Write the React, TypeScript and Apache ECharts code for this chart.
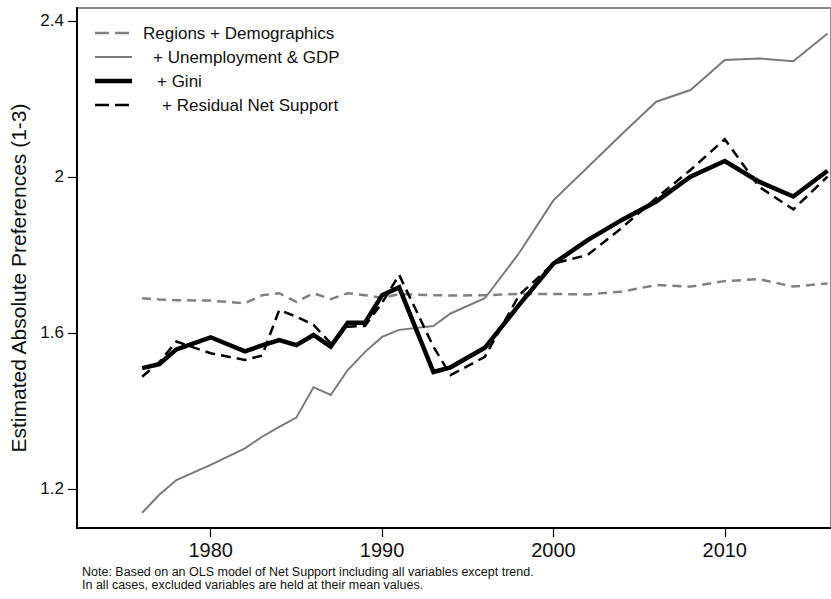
import React, { useEffect, useRef } from "react";
import * as echarts from "echarts";

const years = [1976, 1977, 1978, 1980, 1982, 1983, 1984, 1985, 1986, 1987, 1988, 1989, 1990, 1991, 1993, 1994, 1996, 1998, 2000, 2002, 2004, 2006, 2008, 2010, 2012, 2014, 2016];

const regionsDemographics = [1.689, 1.686, 1.684, 1.683, 1.676, 1.697, 1.702, 1.680, 1.702, 1.687, 1.702, 1.697, 1.690, 1.700, 1.697, 1.696, 1.697, 1.700, 1.700, 1.699, 1.706, 1.723, 1.719, 1.733, 1.738, 1.719, 1.727];
const unemploymentGdp = [1.139, 1.185, 1.223, 1.262, 1.304, 1.334, 1.359, 1.383, 1.461, 1.441, 1.505, 1.551, 1.590, 1.608, 1.618, 1.650, 1.689, 1.805, 1.940, 2.025, 2.110, 2.193, 2.223, 2.300, 2.304, 2.297, 2.368];
const gini = [1.510, 1.520, 1.558, 1.589, 1.553, 1.568, 1.582, 1.569, 1.595, 1.565, 1.626, 1.626, 1.697, 1.717, 1.500, 1.512, 1.562, 1.672, 1.778, 1.838, 1.890, 1.937, 2.001, 2.041, 1.988, 1.950, 2.016];
const residualNetSupport = [1.488, 1.525, 1.578, 1.548, 1.531, 1.542, 1.659, 1.642, 1.621, 1.574, 1.616, 1.618, 1.677, 1.749, 1.565, 1.492, 1.539, 1.697, 1.778, 1.800, 1.870, 1.946, 2.018, 2.097, 1.975, 1.917, 2.001];

const xTicks = [1980, 1990, 2000, 2010];
const yTicks = [1.2, 1.6, 2, 2.4];
const legendNames = ["Regions + Demographics", "+ Unemployment & GDP", "+ Gini", "+ Residual Net Support"];
const yTitle = "Estimated Absolute Preferences (1-3)";
const noteLines = [
  "Note: Based on an OLS model of Net Support including all variables except trend.",
  "In all cases, excluded variables are held at their mean values.",
];

const FONT = "'Liberation Sans', Arial, Helvetica, sans-serif";

const styles = [
  { color: "#808080", width: 2.5, type: [9, 6] as any },
  { color: "#7a7a7a", width: 2, type: "solid" as any },
  { color: "#000000", width: 4.5, type: "solid" as any },
  { color: "#000000", width: 2.5, type: [10, 6] as any },
];

export default function App() {
  const ref = useRef<HTMLDivElement>(null);
  useEffect(() => {
    if (!ref.current) return;
    const chart = echarts.init(ref.current, undefined, { renderer: "svg" });
    const seriesData = [regionsDemographics, unemploymentGdp, gini, residualNetSupport];
    const legendX = [143, 153, 157, 162];
    const legendY = [33, 57, 81, 105];
    const legendGraphics: any[] = [];
    legendNames.forEach((name, i) => {
      legendGraphics.push({
        type: "line",
        shape: { x1: 95, y1: legendY[i], x2: 132, y2: legendY[i] },
        style: {
          stroke: styles[i].color,
          lineWidth: styles[i].width,
          lineDash: Array.isArray(styles[i].type) ? [14, 6] : null,
        },
        silent: true,
      });
      legendGraphics.push({
        type: "text",
        x: legendX[i],
        y: legendY[i],
        style: {
          text: name,
          font: `17px ${FONT}`,
          fill: "#111",
          textVerticalAlign: "middle",
        },
        silent: true,
      });
    });
    noteLines.forEach((t, i) => {
      legendGraphics.push({
        type: "text",
        x: 82,
        y: 565 + i * 13,
        style: { text: t, font: `12.5px ${FONT}`, fill: "#111", textVerticalAlign: "top" },
        silent: true,
      });
    });

    chart.setOption({
      animation: false,
      backgroundColor: "#ffffff",
      grid: {
        left: 77,
        right: 0,
        top: 8,
        bottom: 71,
        show: true,
        borderColor: "#8a8a8a",
        borderWidth: 2,
        backgroundColor: "transparent",
      },
      xAxis: {
        type: "value",
        min: 1972.2,
        max: 2016.2,
        splitLine: { show: false },
        axisLine: { show: true, onZero: false, lineStyle: { color: "#000", width: 2 } },
        axisTick: { show: true, length: 9, customValues: xTicks, lineStyle: { color: "#000", width: 1.2 } },
        axisLabel: {
          customValues: xTicks,
          margin: 12,
          fontSize: 20,
          fontFamily: FONT,
          color: "#111",
          formatter: (v: number) => String(v),
        },
      },
      yAxis: {
        type: "value",
        min: 1.1,
        max: 2.4333,
        splitLine: { show: false },
        axisLine: { show: true, onZero: false, lineStyle: { color: "#000", width: 2 } },
        axisTick: { show: true, length: 9, customValues: yTicks, lineStyle: { color: "#000", width: 1.2 } },
        axisLabel: {
          customValues: yTicks,
          margin: 13,
          fontSize: 17,
          fontFamily: FONT,
          color: "#111",
          formatter: (v: number) => String(Math.round(v * 10) / 10),
        },
        name: yTitle,
        nameLocation: "middle",
        nameGap: 46,
        nameRotate: 90,
        nameTextStyle: { fontSize: 21, fontFamily: FONT, color: "#111", padding: [0, 20, 0, 0] },
      },
      graphic: legendGraphics,
      series: seriesData.map((vals, i) => ({
        type: "line",
        name: legendNames[i],
        data: years.map((y, j) => [y, vals[j]]),
        symbol: "none",
        showSymbol: false,
        z: 2 + i,
        lineStyle: { color: styles[i].color, width: styles[i].width, type: styles[i].type, join: "miter" },
        silent: true,
      })),
    });
    return () => chart.dispose();
  }, []);
  return (
    <div
      ref={ref}
      style={{ position: "fixed", left: 0, top: 0, width: 831, height: 599, background: "#fff" }}
    />
  );
}
